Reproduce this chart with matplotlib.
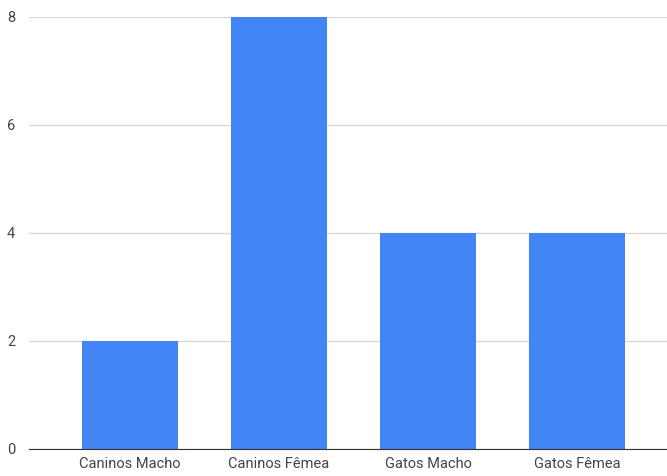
import matplotlib.pyplot as plt

categories = ["Caninos Macho", "Caninos Fêmea", "Gatos Macho", "Gatos Fêmea"]
values = [2, 8, 4, 4]
yticks = [0, 2, 4, 6, 8]

plt.rcParams['font.family'] = ['Liberation Sans Narrow', 'Roboto', 'DejaVu Sans']

fig = plt.figure(figsize=(6.67, 4.76), dpi=100)
ax = fig.add_axes([29 / 667, 27 / 476, 638 / 667, 432 / 476])

x = range(len(categories))
ax.bar(x, values, width=0.644, color="#4285F4", zorder=3)

ax.set_xlim(-0.678, 3.604)
ax.set_ylim(0, 8)
ax.set_yticks(yticks)
ax.set_xticks(list(x))
ax.set_xticklabels(categories)
ax.grid(axis="y", color="#d9d9d9", linewidth=1, zorder=0)
ax.tick_params(length=0, labelsize=10.5, labelcolor="#444444")
ax.tick_params(axis="y", pad=10)
ax.tick_params(axis="x", pad=6)
for s in ["top", "right", "left"]:
    ax.spines[s].set_visible(False)
ax.spines["bottom"].set_color("#333333")
ax.spines["bottom"].set_zorder(4)

fig.savefig("out.png", dpi=100)
